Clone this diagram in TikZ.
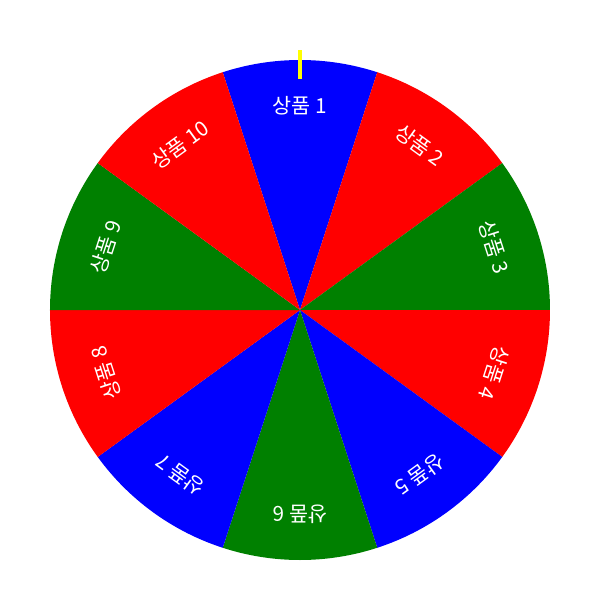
\documentclass[tikz,border=0pt]{standalone}
\usepackage{fontspec}
\newfontfamily\krfont{Noto Sans CJK KR}
\definecolor{wheelblue}{RGB}{0,0,255}
\definecolor{wheelred}{RGB}{255,0,0}
\definecolor{wheelgreen}{RGB}{0,128,0}
\definecolor{pointeryellow}{RGB}{255,255,0}
\tikzset{
  prize/.style={text=white, font=\krfont\fontsize{11.8}{14}\selectfont, inner sep=0pt},
  pointer/.style={draw=pointeryellow, line width=2.2pt}
}

\begin{document}
\begin{tikzpicture}
        \useasboundingbox (-6,-5.8) rectangle (6,6.2);
        % Sectors
        \foreach \i/\col in {1/wheelblue,2/wheelred,3/wheelgreen,4/wheelred,5/wheelblue,
                             6/wheelgreen,7/wheelblue,8/wheelred,9/wheelgreen,10/wheelred} {
            \pgfmathsetmacro{\mid}{90-36*(\i-1)}
            \fill[\col] (0,0) -- ({\mid+18}:5) arc[start angle={\mid+18}, end angle={\mid-18}, radius=5] -- cycle;
        }

        % Labels
        \foreach \i in {1,...,10} {
            \pgfmathsetmacro{\mid}{90-36*(\i-1)}
            \node[prize, rotate=\mid-90] (prize\i) at (\mid:4.08) {상품 \i};
        }

        % Pointer
        \coordinate (pointertop) at (0,5.2);
        \coordinate (pointerbottom) at (0,4.62);
        \draw[pointer] (pointertop) -- (pointerbottom);
    \end{tikzpicture}
\end{document}
